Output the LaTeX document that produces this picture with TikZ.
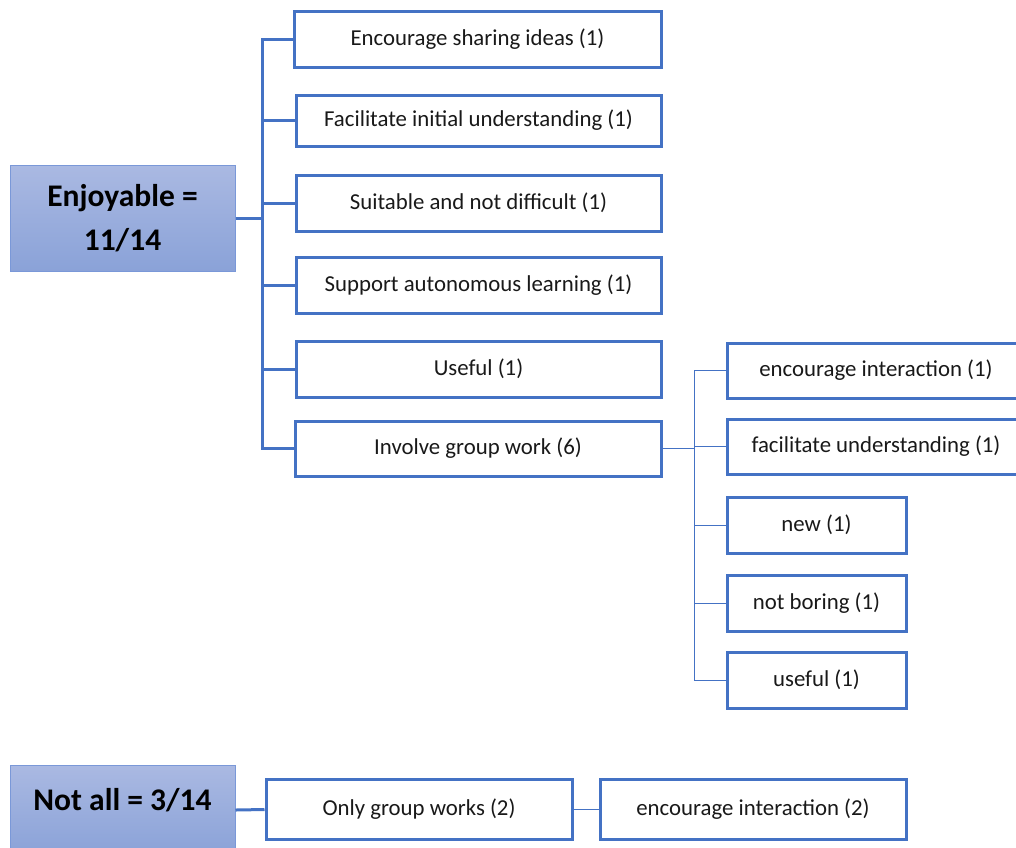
\documentclass[tikz,border=0pt]{standalone}
\usepackage{fontspec}
\setmainfont{Carlito}
\begin{document}
\begin{tikzpicture}[x=1pt,y=-1pt,
  box/.style={draw=boxblue, line width=3pt, fill=white, inner sep=0pt,
    font=\fontsize{22.8}{27}\selectfont, text=black!90},
  rootbox/.style={draw=rootedge, line width=1pt, top color=roottop, bottom color=rootbot,
    inner sep=0pt, align=center, font=\bfseries\fontsize{31.5}{44}\selectfont, text=black},
  thick link/.style={draw=boxblue, line width=3pt},
  thin link/.style={draw=boxblue, line width=1pt},
]
\definecolor{boxblue}{HTML}{4472C4}
\definecolor{rootedge}{HTML}{7A98D8}
\definecolor{roottop}{HTML}{AAB9E2}
\definecolor{rootbot}{HTML}{8AA2D8}

\useasboundingbox (0,0) rectangle (1016,847);
\clip (0,0) rectangle (1016,847);

% first tree: Enjoyable
\node[rootbox, minimum width=225pt, minimum height=106pt] (root) at (122.5,218) {Enjoyable =\\11/14};

\node[box, minimum width=367pt, minimum height=56pt] (enc) at (477.5,39) {Encourage sharing ideas (1)};
\node[box, minimum width=365pt, minimum height=51pt] (fac) at (478.5,120.5) {Facilitate initial understanding (1)};
\node[box, minimum width=365pt, minimum height=56pt] (sui) at (478.5,203) {Suitable and not difficult (1)};
\node[box, minimum width=365pt, minimum height=56pt] (sup) at (478.5,285) {Support autonomous learning (1)};
\node[box, minimum width=365pt, minimum height=56pt] (use) at (478.5,369) {Useful (1)};
\node[box, minimum width=366pt, minimum height=55pt] (inv) at (478,448.5) {Involve group work (6)};

\coordinate (hub) at (262.5,218);
\draw[thick link] (root.east) -- (hub);
\foreach \n in {enc,fac,sui,sup,use,inv}
  \draw[thick link] (hub) |- (\n.west);

% sub-tree of group work
\node[box, minimum width=298pt, minimum height=55pt] (ei1) at (876,370.5) {encourage interaction (1)};
\node[box, minimum width=298pt, minimum height=55pt] (fu1) at (876,446.5) {facilitate understanding (1)};
\node[box, minimum width=179pt, minimum height=56pt] (new) at (816.5,525) {new (1)};
\node[box, minimum width=179pt, minimum height=56pt] (nbo) at (816.5,603) {not boring (1)};
\node[box, minimum width=179pt, minimum height=56pt] (usf) at (816.5,680) {useful (1)};

\coordinate (hub2) at (694,448.5);
\draw[thin link] (inv.east) -- (hub2);
\foreach \n in {ei1,fu1,new,nbo,usf}
  \draw[thin link] (hub2) |- (\n.west);

% second tree: Not all
\node[rootbox, minimum width=225pt, minimum height=90pt, text depth=22pt] (root2) at (122.5,810) {Not all = 3/14};
\node[box, minimum width=306pt, minimum height=60pt] (only) at (419,809.5) {Only group works (2)};
\node[box, minimum width=306pt, minimum height=60pt] (ei2) at (753,809.5) {encourage interaction (2)};

\draw[thick link] (root2.east) -- (only.west);
\draw[thin link] (only.east) -- (ei2.west);
\end{tikzpicture}
\end{document}
